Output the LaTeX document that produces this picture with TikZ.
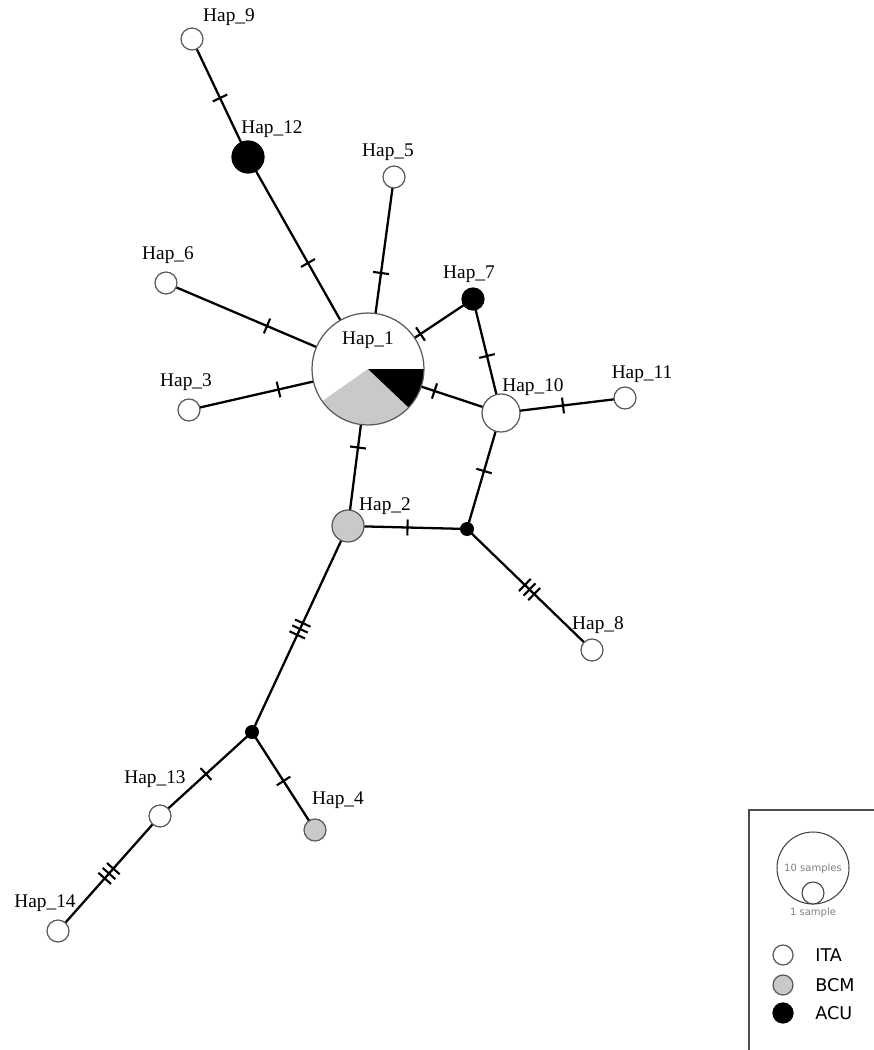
\documentclass[tikz,border=0pt]{standalone}
\usepackage{fontspec}
\setmainfont{Liberation Serif}
\newfontfamily\legfont{DejaVu Sans}
\usepackage{tikz}
\usetikzlibrary{backgrounds}

\tikzset{
  hap/.style={circle, draw=black!65, line width=0.7pt, inner sep=0pt, fill=white, minimum size=#1},
  hap/.default={0.44cm},
  ita/.style={hap=#1},
  ita/.default={0.44cm},
  bcm/.style={hap=#1, fill=black!21},
  bcm/.default={0.44cm},
  acu/.style={hap=#1, fill=black, draw=black},
  acu/.default={0.44cm},
  mv/.style={circle, fill=black, inner sep=0pt, minimum size=0.28cm},
  link/.style={line width=1.3pt},
  hname/.style={font=\fontsize{11}{13}\selectfont, inner sep=0pt},
  legtext/.style={font=\legfont\fontsize{10}{12}\selectfont, anchor=west, inner sep=0pt},
  smalltext/.style={font=\legfont\fontsize{5.7}{7}\selectfont, text=black!50, inner sep=0pt},
  pics/mut/.style={code={\draw[line width=1.2pt] (0,-0.16cm) -- (0,0.16cm);}},
  pics/mutthree/.style={code={
    \foreach \d in {-0.13,0,0.13}
      \draw[line width=1.2pt] (\d cm,-0.17cm) -- (\d cm,0.17cm);}},
}

\begin{document}
\begin{tikzpicture}[x=0.02cm, y=-0.02cm]
  \useasboundingbox (0,0) rectangle (874,1050);

  % haplotypes
  \node[ita=2.24cm, path picture={
      \fill[black!21] (path picture bounding box.center) -- ++(-43.5:1.5cm)
        arc[start angle=-43.5, end angle=-145, radius=1.5cm] -- cycle;
      \fill[black] (path picture bounding box.center) -- ++(0:1.5cm)
        arc[start angle=0, end angle=-43.5, radius=1.5cm] -- cycle;
    }] (h1) at (368,369) {};
  \node[bcm=0.64cm] (h2) at (348,526) {};
  \node[ita] (h3) at (189,410) {};
  \node[bcm] (h4) at (315,830) {};
  \node[ita] (h5) at (394,177) {};
  \node[ita] (h6) at (166,283) {};
  \node[acu] (h7) at (473,299) {};
  \node[ita] (h8) at (592,650) {};
  \node[ita] (h9) at (192,39) {};
  \node[ita=0.76cm] (h10) at (501,413) {};
  \node[ita] (h11) at (625,398) {};
  \node[acu=0.64cm] (h12) at (248,157) {};
  \node[ita] (h13) at (160,816) {};
  \node[ita] (h14) at (58,931) {};
  \node[mv] (mv1) at (467,529) {};
  \node[mv] (mv2) at (252,732) {};

  % names
  \node[hname] (l1) at (368,340) {Hap\_1};
  \node[hname] (l2) at (385,506) {Hap\_2};
  \node[hname] (l3) at (186,382) {Hap\_3};
  \node[hname] (l4) at (338,800) {Hap\_4};
  \node[hname] (l5) at (388,152) {Hap\_5};
  \node[hname] (l6) at (168,255) {Hap\_6};
  \node[hname] (l7) at (469,274) {Hap\_7};
  \node[hname] (l8) at (598,625) {Hap\_8};
  \node[hname] (l9) at (229,17) {Hap\_9};
  \node[hname] (l10) at (533,387) {Hap\_10};
  \node[hname] (l11) at (642,374) {Hap\_11};
  \node[hname] (l12) at (272,129) {Hap\_12};
  \node[hname] (l13) at (155,779) {Hap\_13};
  \node[hname] (l14) at (45,903) {Hap\_14};

  % links with mutation steps
  \begin{scope}[on background layer]
    \draw[link] (h9.center) -- pic[pos=0.5, sloped]{mut} (h12.center);
    \draw[link] (h12.center) -- pic[pos=0.5, sloped]{mut} (h1.center);
    \draw[link] (h5.center) -- pic[pos=0.5, sloped]{mut} (h1.center);
    \draw[link] (h6.center) -- pic[pos=0.5, sloped]{mut} (h1.center);
    \draw[link] (h3.center) -- pic[pos=0.5, sloped]{mut} (h1.center);
    \draw[link] (h7.center) -- pic[pos=0.5, sloped]{mut} (h1.center);
    \draw[link] (h10.center) -- pic[pos=0.5, sloped]{mut} (h1.center);
    \draw[link] (h7.center) -- pic[pos=0.5, sloped]{mut} (h10.center);
    \draw[link] (h10.center) -- pic[pos=0.5, sloped]{mut} (h11.center);
    \draw[link] (h10.center) -- pic[pos=0.5, sloped]{mut} (mv1.center);
    \draw[link] (h1.center) -- pic[pos=0.5, sloped]{mut} (h2.center);
    \draw[link] (h2.center) -- pic[pos=0.5, sloped]{mut} (mv1.center);
    \draw[link] (mv1.center) -- pic[pos=0.5, sloped]{mutthree} (h8.center);
    \draw[link] (h2.center) -- pic[pos=0.5, sloped]{mutthree} (mv2.center);
    \draw[link] (mv2.center) -- pic[pos=0.5, sloped]{mut} (h13.center);
    \draw[link] (mv2.center) -- pic[pos=0.5, sloped]{mut} (h4.center);
    \draw[link] (h13.center) -- pic[pos=0.5, sloped]{mutthree} (h14.center);
  \end{scope}

  % legend
  \draw[black!70, line width=0.6pt] (749,1050) -- (749,810) -- (874,810);
  \node[circle, draw=black!75, line width=0.6pt, inner sep=0pt, minimum size=1.44cm] (ten) at (813,868) {};
  \node[smalltext] (tenlab) at (813,869) {10 samples};
  \node[circle, draw=black!75, line width=0.6pt, fill=white, inner sep=0pt, minimum size=0.44cm] (one) at (813,893) {};
  \node[smalltext] (onelab) at (813,913) {1 sample};
  \node[ita=0.4cm] (lita) at (783,955) {};
  \node[bcm=0.4cm] (lbcm) at (783,985) {};
  \node[acu=0.4cm] (lacu) at (783,1013) {};
  \node[legtext] (tita) at (815,955) {ITA};
  \node[legtext] (tbcm) at (815,985) {BCM};
  \node[legtext] (tacu) at (815,1013) {ACU};
\end{tikzpicture}
\end{document}
